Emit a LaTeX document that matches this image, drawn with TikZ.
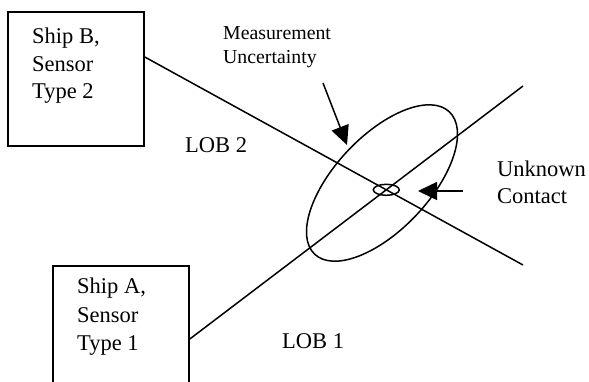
\documentclass[tikz,border=0pt]{standalone}
\usepackage{fontspec}
\setmainfont{Liberation Serif}
\usetikzlibrary{arrows.meta,shapes.geometric,intersections}
\begin{document}
\begin{tikzpicture}[x=1pt,y=-1pt,
  ln/.style={line width=1.5pt},
  shipbox/.style={draw, line width=1.6pt, rectangle, inner sep=0pt, minimum width=136pt},
  lbl/.style={inner sep=0pt, anchor=north west, align=left, font=\fontsize{22.5}{27.5}\selectfont},
  smalllbl/.style={inner sep=0pt, anchor=north west, align=left, font=\fontsize{19.8}{24}\selectfont},
  oneline/.style={inner sep=0pt, anchor=base west, font=\fontsize{22.5}{27.5}\selectfont},
  oval/.style={draw, ellipse, line width=1.5pt, inner sep=0pt},
  ptr/.style={line width=1.5pt, -{Triangle[length=19pt,width=18pt]}}]
\useasboundingbox (0,0) rectangle (589,381);
% ship boxes
\node[shipbox, minimum height=134pt] (shipB) at (76,79) {};
\node[shipbox, minimum height=130pt] (shipA) at (121,331) {};
\node[lbl] (shipBtext) at (32,27.7) {Ship B,\\Sensor\\Type 2};
\node[lbl, font=\fontsize{22.5}{28.5}\selectfont] (shipAtext) at (77,277.7) {Ship A,\\Sensor\\Type 1};
% lines of bearing
\coordinate (lobBend) at (523,265);
\coordinate (lobAend) at (523,86);
\draw[ln, name path=lob2] (shipB.east |- 0,57) -- (lobBend);
\draw[ln, name path=lob1] (shipA.east |- 0,339) -- (lobAend);
\path[name intersections={of=lob1 and lob2, by=fix}];
% ellipses
\node[oval, minimum width=196pt, minimum height=94pt, rotate=46.6] (region) at (382,183) {};
\node[oval, minimum width=26pt, minimum height=11pt] (contact) at (fix) {};
% labels
\node[oneline] (lob2lbl) at (185,152) {LOB 2};
\node[oneline] (lob1lbl) at (282,348) {LOB 1};
\node[smalllbl] (mulbl) at (223,25.9) {Measurement\\Uncertainty};
\node[lbl] (uclbl) at (497,160.6) {Unknown\\Contact};
% pointers
\coordinate (mtail) at (323,83);
\coordinate (mtip) at (347,145);
\draw[ptr] (mtail) -- (mtip);
\coordinate (utail) at (463,191);
\coordinate (utip) at (418,191);
\draw[ptr] (utail) -- (utip);
\end{tikzpicture}
\end{document}
